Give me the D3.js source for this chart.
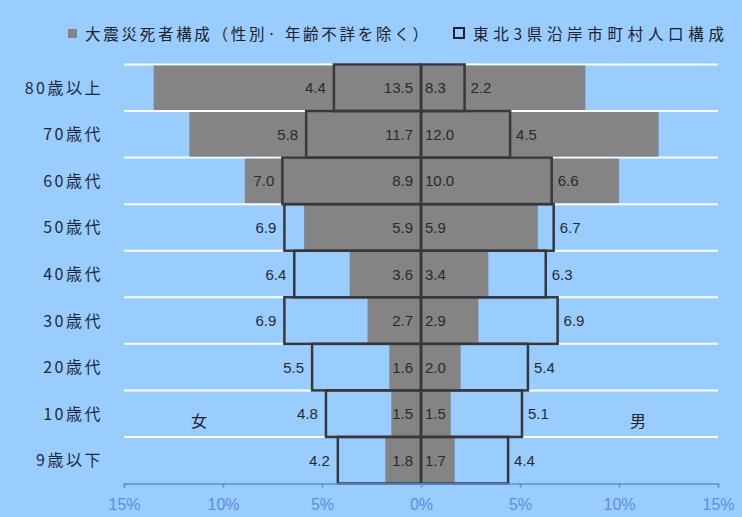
<!DOCTYPE html>
<html>
<head>
<meta charset="utf-8">
<script src="https://cdn.jsdelivr.net/npm/d3@7"></script>
<style>
  html, body { margin: 0; padding: 0; background: #99ccff; }
  svg { display: block; }
</style>
</head>
<body>
<svg id="chart" width="742" height="517"></svg>
<script>
// Age groups, top to bottom
const ageGroups = ["80歳以上", "70歳代", "60歳代", "50歳代", "40歳代", "30歳代", "20歳代", "10歳代", "9歳以下"];

// Share of earthquake deaths by age (%), sex and age unknown excluded
const deathFemale = [13.5, 11.7, 8.9, 5.9, 3.6, 2.7, 1.6, 1.5, 1.8];
const deathMale   = [8.3, 12.0, 10.0, 5.9, 3.4, 2.9, 2.0, 1.5, 1.7];

// Population share in coastal municipalities of the three Tohoku prefectures (%)
const popFemale = [4.4, 5.8, 7.0, 6.9, 6.4, 6.9, 5.5, 4.8, 4.2];
const popMale   = [2.2, 4.5, 6.6, 6.7, 6.3, 6.9, 5.4, 5.1, 4.4];

const tickValues = [-15, -10, -5, 0, 5, 10, 15];
const legendDeath = "大震災死者構成（性別· 年齢不詳を除く）";
const legendPop = "東北3県沿岸市町村人口構成";

const svg = d3.select("#chart");
const jp = "'Noto Sans CJK JP', 'Noto Sans', sans-serif";
const num = "'Liberation Sans', Arial, sans-serif";

const x = d3.scaleLinear().domain([-15, 15]).range([124, 718]);
const y = d3.scaleBand().domain(ageGroups).range([64.5, 483.5]).padding(0);

const rows = ageGroups.map((g, i) => ({
  g, df: deathFemale[i], dm: deathMale[i], pf: popFemale[i], pm: popMale[i]
}));

// Horizontal grid lines between rows
svg.append("g").selectAll("line")
  .data(ageGroups)
  .join("line")
  .attr("x1", x(-15)).attr("x2", x(15))
  .attr("y1", d => y(d)).attr("y2", d => y(d))
  .attr("stroke", "#ffffff").attr("stroke-width", 2);

// Death share bars (grey)
const gray = "#848484";
svg.append("g").selectAll("rect.df")
  .data(rows).join("rect")
  .attr("x", d => x(-d.df)).attr("width", d => x(0) - x(-d.df))
  .attr("y", d => y(d.g) + 1).attr("height", y.bandwidth() - 2)
  .attr("fill", gray);
svg.append("g").selectAll("rect.dm")
  .data(rows).join("rect")
  .attr("x", x(0)).attr("width", d => x(d.dm) - x(0))
  .attr("y", d => y(d.g) + 1).attr("height", y.bandwidth() - 2)
  .attr("fill", gray);

// Population share outlines
const outline = "#383838";
svg.append("g").selectAll("rect.pf")
  .data(rows).join("rect")
  .attr("x", d => x(-d.pf)).attr("width", d => x(0) - x(-d.pf))
  .attr("y", d => y(d.g)).attr("height", y.bandwidth())
  .attr("fill", "none").attr("stroke", outline).attr("stroke-width", 2.5);
svg.append("g").selectAll("rect.pm")
  .data(rows).join("rect")
  .attr("x", x(0)).attr("width", d => x(d.pm) - x(0))
  .attr("y", d => y(d.g)).attr("height", y.bandwidth())
  .attr("fill", "none").attr("stroke", outline).attr("stroke-width", 2.5);

// Value labels
const lab = svg.append("g").attr("font-family", num).attr("font-size", 15).attr("fill", "#2a2a2a");
const cy = d => y(d.g) + y.bandwidth() / 2 + 5.5;
lab.selectAll("text.df").data(rows).join("text")
  .attr("x", x(0) - 8).attr("y", cy).attr("text-anchor", "end")
  .text(d => d.df.toFixed(1));
lab.selectAll("text.dm").data(rows).join("text")
  .attr("x", x(0) + 4).attr("y", cy).attr("text-anchor", "start")
  .text(d => d.dm.toFixed(1));
lab.selectAll("text.pf").data(rows).join("text")
  .attr("x", d => x(-d.pf) - 8).attr("y", cy).attr("text-anchor", "end")
  .text(d => d.pf.toFixed(1));
lab.selectAll("text.pm").data(rows).join("text")
  .attr("x", d => x(d.pm) + 6).attr("y", cy).attr("text-anchor", "start")
  .text(d => d.pm.toFixed(1));

// Age group labels
svg.append("g").selectAll("text")
  .data(ageGroups).join("text")
  .attr("x", 103).attr("y", d => y(d) + y.bandwidth() / 2 + 6)
  .attr("text-anchor", "end")
  .attr("font-family", jp).attr("font-size", 16).attr("letter-spacing", 2.5)
  .attr("fill", "#1e2a3a")
  .text(d => d);

// Bottom axis
const axis = svg.append("g")
  .attr("transform", `translate(0,${y.range()[1]})`)
  .call(d3.axisBottom(x).tickValues(tickValues).tickSize(4)
    .tickFormat(d => Math.abs(d) + "%"));
axis.select(".domain").attr("stroke", "#5b8fd8").attr("stroke-width", 1.5);
axis.selectAll(".tick line").attr("stroke", "#5b8fd8").attr("stroke-width", 1.5);
axis.selectAll(".tick text")
  .attr("fill", "#5b8ee6").attr("font-family", num).attr("font-size", 16)
  .attr("y", 26.5).attr("dy", 0);

// Sex labels
svg.append("text").attr("x", 199).attr("y", 427).attr("text-anchor", "middle")
  .attr("font-family", jp).attr("font-size", 16).attr("fill", "#222").text("女");
svg.append("text").attr("x", 638).attr("y", 427).attr("text-anchor", "middle")
  .attr("font-family", jp).attr("font-size", 16).attr("fill", "#222").text("男");

// Legend
const leg = svg.append("g").attr("font-family", jp).attr("font-size", 15.5).attr("fill", "#222");
leg.append("rect").attr("x", 68).attr("y", 29).attr("width", 9).attr("height", 9).attr("fill", gray);
leg.append("text").attr("x", 85).attr("y", 39.5)
  .attr("textLength", 343).attr("lengthAdjust", "spacing").text(legendDeath);
leg.append("rect").attr("x", 454).attr("y", 28).attr("width", 10).attr("height", 10)
  .attr("fill", "none").attr("stroke", "#222").attr("stroke-width", 2);
leg.append("text").attr("x", 473).attr("y", 39.5)
  .attr("textLength", 251).attr("lengthAdjust", "spacing").text(legendPop);
</script>
</body>
</html>
